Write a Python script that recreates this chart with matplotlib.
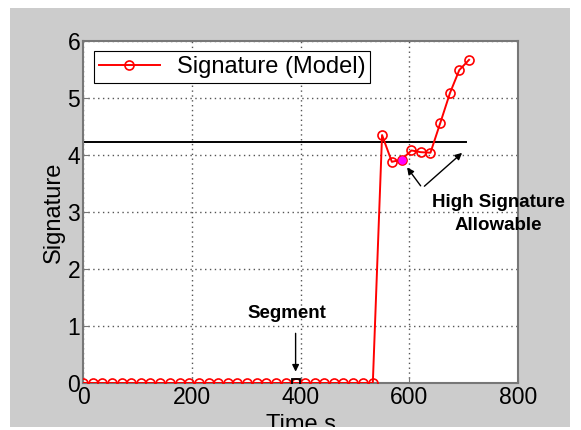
import matplotlib
matplotlib.use("Agg")
import matplotlib.pyplot as plt
from matplotlib.patches import Rectangle

plt.rcParams["font.family"] = ["Liberation Sans", "DejaVu Sans"]

# time samples (s) and model signature
time_s = [0, 18, 35, 53, 71, 89, 107, 124, 142, 160, 178, 195, 213, 231,
          249, 266, 284, 302, 320, 337, 355, 373, 391, 408, 426, 444, 462,
          479, 497, 515, 533, 550, 568, 586, 604, 621, 639, 657, 675, 692, 710]
signature = [0] * 31 + [4.35, 3.88, 3.92, 4.08, 4.05, 4.04, 4.56, 5.09, 5.49, 5.67]

allowable = 4.22
allowable_span = [0, 705]
segment_time, segment_val = 391, 0
high_time, high_val = 586, 3.92

fig = plt.figure(figsize=(5.81, 4.30), dpi=100, facecolor="white")
bg = Rectangle((10 / 581, 3 / 430), 560 / 581, 419 / 430, transform=fig.transFigure,
               facecolor="#cccccc", edgecolor="none", zorder=-10)
fig.patches.append(bg)

ax = fig.add_axes([83 / 581, 47 / 430, 435 / 581, 342 / 430])
ax.set_facecolor("white")

ax.plot(time_s, signature, "-o", color="red", lw=1.4, ms=6.5, mfc="none",
        mec="red", mew=1.2, label="Signature (Model)", zorder=3)
ax.plot(allowable_span, [allowable, allowable], color="black", lw=1.4, zorder=2)
ax.plot([segment_time], [segment_val], "s", color="black", ms=6, mfc="none", mew=1.3, zorder=4)
ax.plot([high_time], [high_val], "o", color="magenta", ms=5, zorder=4)

ax.set_xlim(0, 800)
ax.set_ylim(0, 6)
ax.set_xticks([0, 200, 400, 600, 800])
ax.set_yticks([0, 1, 2, 3, 4, 5, 6])
ax.grid(True, linestyle=(0, (1, 2.5)), color="#555555", lw=1.0)
ax.set_axisbelow(True)
for s in ax.spines.values():
    s.set_color("#777777")
    s.set_linewidth(1.5)
ax.tick_params(direction="in", length=4, color="#777777", labelsize=16.5, pad=2)

ax.set_ylabel("Signature", fontsize=17, labelpad=2)
xl = ax.set_xlabel("Time s", fontsize=17, labelpad=4)
xl.set_clip_path(bg)

leg = ax.legend(loc="upper left", fontsize=17, fancybox=False, framealpha=1,
                edgecolor="black", borderpad=0.2, handlelength=2.6,
                handletextpad=0.7, borderaxespad=0, bbox_to_anchor=(0.025, 0.97))
leg.get_frame().set_linewidth(0.8)

ax.annotate("", xy=(segment_time, 0.15), xytext=(segment_time, 0.92),
            arrowprops=dict(arrowstyle="-|>", color="black", lw=1.0, mutation_scale=10))
ax.text(375, 1.22, "Segment", fontsize=13.5, fontweight="bold", ha="center", va="center")

vx, vy = 624, 3.42
ax.annotate("", xy=(593, 3.82), xytext=(vx, vy),
            arrowprops=dict(arrowstyle="-|>", color="black", lw=1.0, mutation_scale=10))
ax.annotate("", xy=(701, 4.07), xytext=(vx, vy),
            arrowprops=dict(arrowstyle="-|>", color="black", lw=1.0, mutation_scale=10))
ax.text(764, 2.96, "High Signature\nAllowable", fontsize=13.5, fontweight="bold",
        ha="center", va="center", linespacing=1.45, clip_on=False)

fig.savefig("out.png", dpi=100, facecolor="white")
